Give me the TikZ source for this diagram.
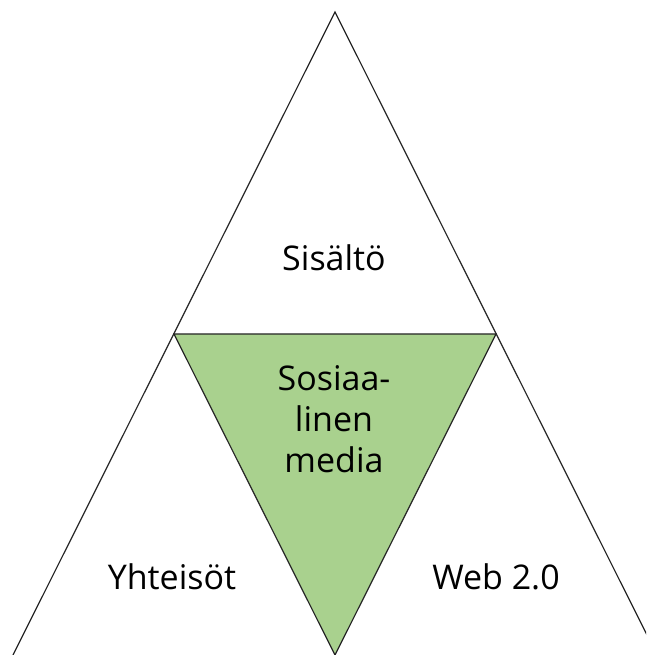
\documentclass[tikz,border=0pt]{standalone}
\usepackage{fontspec}
\setmainfont{Open Sans}
\definecolor{greenfill}{HTML}{A9D18E}
\definecolor{edge}{HTML}{262626}
\begin{document}
\begin{tikzpicture}[x=1pt,y=1pt,
  edgeline/.style={draw=edge,line width=1.2pt,line join=miter},
  lbl/.style={font=\fontsize{34}{41}\selectfont,align=center,inner sep=0pt,text=black}]
\useasboundingbox (0,0) rectangle (646,655);
\clip (0,0) rectangle (646,655);
\coordinate (apex) at (335,643);
\coordinate (bl) at (13,0);
\coordinate (br) at (657,0);
\coordinate (ml) at (174,321);
\coordinate (mr) at (496,321);
\coordinate (mb) at (335,0);
\fill[greenfill] (ml) -- (mr) -- (mb) -- cycle;
\draw[edgeline] (bl) -- (apex) -- (br);
\draw[edgeline] (ml) -- (mr) -- (mb) -- cycle;
\node[lbl] (sisalto) at (334,397) {Sisältö};
\node[lbl] (media) at (334,236) {Sosiaa-\\linen\\media};
\node[lbl] (yhteisot) at (172,78) {Yhteisöt};
\node[lbl] (web) at (496,78) {Web 2.0};
\end{tikzpicture}
\end{document}
